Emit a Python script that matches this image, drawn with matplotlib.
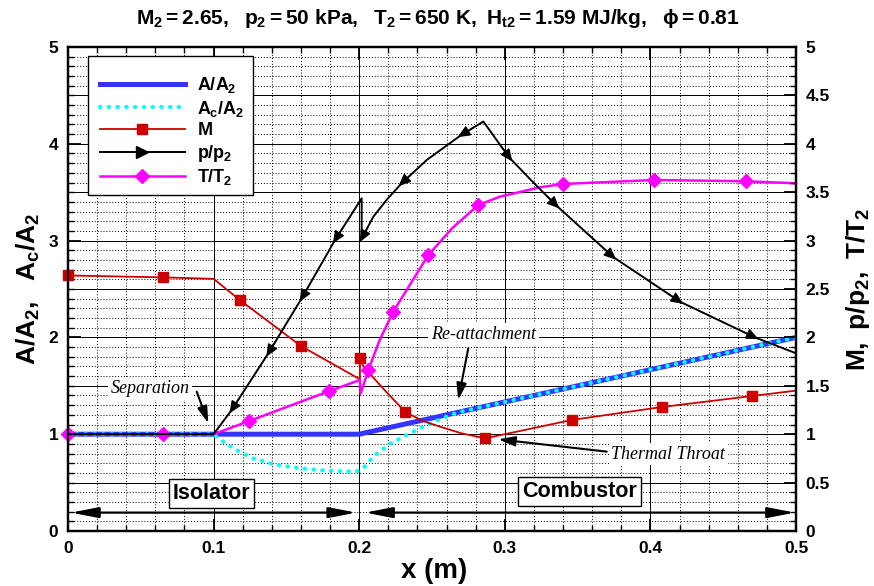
import numpy as np
import matplotlib
matplotlib.use('Agg')
import matplotlib.pyplot as plt
from matplotlib.lines import Line2D
from matplotlib.patches import Rectangle
from matplotlib.ticker import MultipleLocator, FuncFormatter

plt.rcParams['font.family'] = ['Liberation Sans', 'DejaVu Sans']
plt.rcParams['font.weight'] = 'bold'
plt.rcParams['mathtext.fontset'] = 'custom'
plt.rcParams['mathtext.rm'] = 'Liberation Sans:bold'
plt.rcParams['mathtext.it'] = 'Liberation Sans:bold'
plt.rcParams['mathtext.bf'] = 'Liberation Sans:bold'
plt.rcParams['mathtext.sf'] = 'Liberation Sans:bold'

# ---------------- data ----------------
A_x = [0.0, 0.2, 0.5]
A_y = [1.0, 1.0, 2.0]

Ac_x = [0.0, 0.1, 0.104, 0.1135, 0.127, 0.141, 0.159, 0.178, 0.198, 0.2035,
        0.2097, 0.221, 0.2326, 0.244, 0.2555, 0.267, 0.5]
Ac_y = [1.0, 1.0, 0.95, 0.854, 0.75, 0.69, 0.648, 0.623, 0.613, 0.66,
        0.768, 0.899, 0.992, 1.078, 1.154, 1.223, 2.0]

M_x = [0.0, 0.0652, 0.1, 0.118, 0.160, 0.2005, 0.2005, 0.2025, 0.21, 0.219,
       0.2315, 0.243, 0.2555, 0.27, 0.2865, 0.346, 0.408, 0.470, 0.5]
M_y = [2.64, 2.62, 2.605, 2.386, 1.911, 1.567, 1.79, 1.71, 1.58, 1.43,
       1.232, 1.14, 1.078, 1.01, 0.957, 1.147, 1.281, 1.395, 1.45]
M_marks = [0, 1, 3, 4, 6, 10, 14, 15, 16, 17]

P_x = [0.0, 0.1, 0.1124, 0.1376, 0.1605, 0.1834, 0.2017, 0.2017, 0.2097, 0.2188,
       0.229, 0.2464, 0.270, 0.2853, 0.2967, 0.3036, 0.3196, 0.3356, 0.3745,
       0.4203, 0.4718, 0.5]
P_y = [1.0, 1.0, 1.25, 1.836, 2.404, 3.006, 3.437, 3.02, 3.247, 3.42,
       3.59, 3.833, 4.09, 4.23, 3.99, 3.85, 3.60, 3.36, 2.83,
       2.369, 2.0, 1.836]
P_arrows_back = [2, 3, 4, 5, 7, 10, 12]
P_arrows_fwd = [15, 17, 18, 19, 20]

T_x = [0.0, 0.065, 0.1, 0.1244, 0.1795, 0.2005, 0.201, 0.2063, 0.214, 0.2234,
       0.2475, 0.264, 0.2818, 0.2967, 0.324, 0.340, 0.4025, 0.4654, 0.5]
T_y = [1.0, 1.0, 1.0, 1.136, 1.446, 1.56, 1.42, 1.663, 1.97, 2.266,
       2.851, 3.13, 3.368, 3.454, 3.55, 3.585, 3.626, 3.613, 3.592]
T_marks = [0, 1, 3, 4, 7, 9, 10, 12, 15, 16, 17]

title = r'$M_2 = 2.65,\ \ p_2 = 50\ kPa,\ \ T_2 = 650\ K,\ H_{t2} = 1.59\ MJ/kg,\ \ \phi = 0.81$'

BLUE = '#3535ff'
CYAN = '#00ffff'
RED = '#cc0000'
MAG = '#ff00ff'

# ---------------- figure ----------------
fig = plt.figure(figsize=(8.74, 5.86), dpi=100)
ax = fig.add_axes([68 / 874, 1 - 531 / 586, (796 - 68) / 874, (531 - 47) / 586])
ax.set_xlim(0, 0.5)
ax.set_ylim(0, 5)
ax2 = ax.twinx()
ax2.set_ylim(0, 5)

fmt = FuncFormatter(lambda v, p: '%g' % round(v, 3))
ax.xaxis.set_major_locator(MultipleLocator(0.1))
ax.xaxis.set_minor_locator(MultipleLocator(0.02))
ax.xaxis.set_major_formatter(fmt)
ax.yaxis.set_major_locator(MultipleLocator(1))
ax.yaxis.set_minor_locator(MultipleLocator(0.1))
ax.yaxis.set_major_formatter(fmt)
ax2.yaxis.set_major_locator(MultipleLocator(0.5))
ax2.yaxis.set_minor_locator(MultipleLocator(0.1))
ax2.yaxis.set_major_formatter(fmt)

ax.set_axisbelow(True)
ax.grid(which='major', color='k', lw=0.7, ls='-')
ax.grid(which='minor', color='k', lw=0.7, ls=(0, (1, 2)))
for v in np.arange(0.5, 5, 1.0):
    ax.axhline(v, color='k', lw=0.7, zorder=0.6)

ax.tick_params(axis='x', which='both', direction='in', top=True, bottom=True,
               labelsize=12.5, pad=7)
ax.tick_params(axis='y', which='both', direction='in', left=True, right=False,
               labelsize=12.5, pad=7)
ax.tick_params(which='major', length=9, width=1.3)
ax.tick_params(which='minor', length=4.5, width=1.0)
ax2.tick_params(axis='y', which='both', direction='in', right=True, labelsize=12.5, pad=7)
ax2.tick_params(which='major', length=9, width=1.3)
ax2.tick_params(which='minor', length=4.5, width=1.0)
for a in (ax, ax2):
    for s in a.spines.values():
        s.set_linewidth(1.6)

# ---------------- curves ----------------
ax.plot(A_x, A_y, color=BLUE, lw=3.6, solid_capstyle='butt', zorder=3)
ax.plot(Ac_x, Ac_y, color=CYAN, lw=3.0, ls=(0, (0.1, 2.0)),
        dash_capstyle='round', zorder=4)
ax.plot(M_x, M_y, color=RED, lw=1.3, marker='s', ms=7, markevery=M_marks,
        zorder=5, clip_on=False)
ax.plot(P_x, P_y, color='k', lw=1.4, zorder=6)
ax.plot(T_x, T_y, color=MAG, lw=1.8, marker='D', ms=7, markevery=T_marks,
        zorder=5.5, clip_on=False)

# arrow heads along the p/p2 line
def line_arrow(i, j):
    pt = ax.transData.transform((P_x[i], P_y[i]))
    ref = ax.transData.transform((P_x[j], P_y[j]))
    d = ref - pt
    d = d / np.hypot(*d)
    tip = ax.transData.inverted().transform(pt - d * 4)
    tail = ax.transData.inverted().transform(pt + d * 14)
    ax.annotate('', xy=tip, xytext=tail,
                arrowprops=dict(arrowstyle='-|>,head_length=0.75,head_width=0.33',
                                mutation_scale=10, color='k', lw=1.0,
                                shrinkA=0, shrinkB=0), zorder=7)

for i in P_arrows_back:
    line_arrow(i, i + 1)
for i in P_arrows_fwd:
    line_arrow(i, i - 1)

# ---------------- legend ----------------
frame = Rectangle((88 / 874, 1 - 195 / 586), 165 / 874, 139 / 586,
                  transform=fig.transFigure, fc='white', ec='k', lw=1.0, zorder=19)
ax.add_artist(frame)
handles = [
    Line2D([], [], color=BLUE, lw=3.6),
    Line2D([], [], color=CYAN, lw=3.0, ls=(0, (0.1, 2.0)), dash_capstyle='round'),
    Line2D([], [], color=RED, lw=1.3, marker='s', ms=7),
    Line2D([], [], color='k', lw=1.4, marker='>', ms=8),
    Line2D([], [], color=MAG, lw=1.8, marker='D', ms=7),
]
labels = [r'$A/A_2$', r'$A_c/A_2$', r'$M$', r'$p/p_2$', r'$T/T_2$']
leg = ax.legend(handles, labels, loc='upper left',
                bbox_to_anchor=(100 / 874, 1 - 75 / 586), bbox_transform=fig.transFigure,
                frameon=False, fontsize=13, handlelength=4.7, handletextpad=0.65,
                labelspacing=0.2, borderpad=0, borderaxespad=0)
leg.set_zorder(20)

# ---------------- annotations ----------------
serif = dict(family=['Liberation Serif', 'DejaVu Serif'], style='italic',
             weight='normal', fontsize=13, ha='center', va='center', zorder=8)
head = 'head_length=1.0,head_width=0.3'
ax.text(0.0563, 1.474, 'Separation',
        bbox=dict(boxstyle='square,pad=0.15', fc='white', ec='none'), **serif)
ax.annotate('', xy=(0.0964, 1.113), xytext=(0.0884, 1.439),
            arrowprops=dict(arrowstyle='-|>,' + head, mutation_scale=10, color='k',
                            lw=1.5, shrinkA=0, shrinkB=0), zorder=8)
ax.text(0.2853, 2.03, 'Re-attachment',
        bbox=dict(boxstyle='square,pad=0.15', fc='white', ec='none'), **serif)
ax.annotate('', xy=(0.268, 1.353), xytext=(0.2749, 1.887),
            arrowprops=dict(arrowstyle='-|>,' + head, mutation_scale=10, color='k',
                            lw=1.5, shrinkA=0, shrinkB=0), zorder=8)
ax.text(0.4123, 0.795, 'Thermal Throat',
        bbox=dict(boxstyle='square,pad=0.15', fc='white', ec='none'), **serif)
ax.annotate('', xy=(0.2955, 0.947), xytext=(0.370, 0.82),
            arrowprops=dict(arrowstyle='-|>,' + head, mutation_scale=10, color='k',
                            lw=1.5, shrinkA=0, shrinkB=0), zorder=8)

box = dict(boxstyle='square,pad=0.18', fc='white', ec='k', lw=1.0)
ax.text(0.0987, 0.39, 'Isolator', fontsize=15.5, weight='bold', ha='center',
        va='center', bbox=box, zorder=8)
ax.text(0.3512, 0.41, 'Combustor', fontsize=15.5, weight='bold', ha='center',
        va='center', bbox=box, zorder=8)
dbl = dict(arrowstyle='<|-|>,head_length=1.65,head_width=0.32', mutation_scale=10,
           color='k', lw=1.6, shrinkA=0, shrinkB=0)
ax.annotate('', xy=(0.002, 0.19), xytext=(0.198, 0.19), arrowprops=dbl, zorder=8)
ax.annotate('', xy=(0.204, 0.19), xytext=(0.4993, 0.19), arrowprops=dbl, zorder=8)

# ---------------- labels ----------------
ax.set_xlabel('x (m)', fontsize=20, weight='bold')
ax.xaxis.label.set_va('center')
ax.xaxis.set_label_coords((434 - 68) / 728, (531 - 571) / 484)
ax.set_ylabel(r'$A/A_2,\ \ A_c/A_2$', fontsize=19)
ax.yaxis.label.set_va('center')
ax.yaxis.set_label_coords((28 - 68) / 728, 0.5)
ax2.set_ylabel(r'$M,\ p/p_2,\ T/T_2$', fontsize=19, rotation=90)
ax2.yaxis.label.set_va('center')
ax2.yaxis.set_label_coords((858 - 68) / 728, 0.5)

fig.text(438 / 874, 1 - 18 / 586, title, ha='center', va='center', fontsize=15)

fig.savefig('out.png', dpi=100)
